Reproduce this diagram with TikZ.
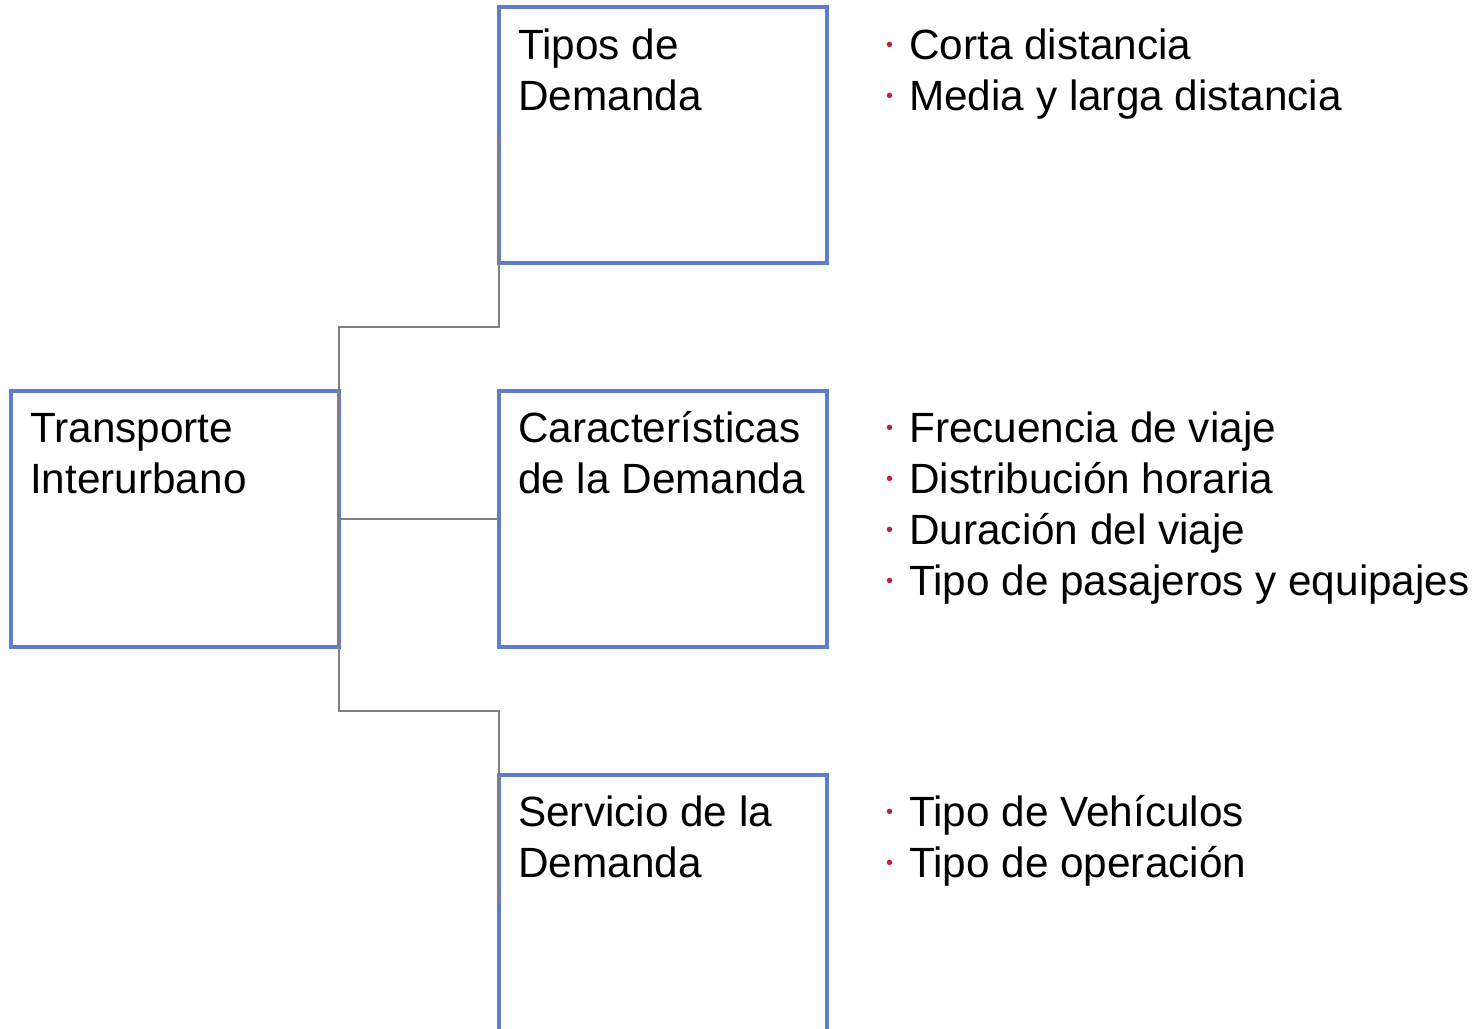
\documentclass[tikz,border=0pt]{standalone}
\usepackage{fontspec}
\setmainfont{Liberation Sans}
\usetikzlibrary{positioning,calc}
\definecolor{boxblue}{RGB}{96,126,200}
\definecolor{linegray}{RGB}{128,128,128}
\definecolor{dotred}{RGB}{192,32,58}
% small red dot in front of each item
\newcommand{\itm}{\llap{\textcolor{dotred}{\raisebox{8pt}{\fontsize{20}{20}\selectfont\char"2022}}\hspace{16pt}}}
\tikzset{
  box/.style={draw=boxblue, line width=4.2pt, minimum width=328pt, minimum height=256pt, inner sep=0pt, outer sep=0pt},
  boxtext/.style={anchor=base west, align=left, inner sep=0pt, font=\fontsize{42.3}{51}\selectfont},
  conn/.style={draw=linegray, line width=2.8pt},
}
\begin{document}
\begin{tikzpicture}[x=1pt,y=-1pt]
\useasboundingbox (0,0) rectangle (1479,1028);
% boxes
\node[box] (root) at (175,519) {};
\node[box] (tipos) at (663,135) {};
\node[box] (carac) at (663,519) {};
\node[box] (serv) at (663,903) {};
% box texts (anchored at the last baseline)
\node[boxtext] (roottxt) at ([shift={(19,102)}]root.north west) {Transporte\\Interurbano};
\node[boxtext] (tipostxt) at ([shift={(19,103)}]tipos.north west) {Tipos de\\Demanda};
\node[boxtext] (caractxt) at ([shift={(19,102)}]carac.north west) {Características\\de la Demanda};
\node[boxtext] (servtxt) at ([shift={(19,102)}]serv.north west) {Servicio de la\\Demanda};
% item lists
\node[boxtext] (tiposlist) at ([shift={(82,103)}]tipos.north east) {\itm Corta distancia\\\itm Media y larga distancia};
\node[boxtext] (caraclist) at ([shift={(82,204)}]carac.north east) {\itm Frecuencia de viaje\\\itm Distribución horaria\\\itm Duración del viaje\\\itm Tipo de pasajeros y equipajes};
\node[boxtext] (servlist) at ([shift={(82,102)}]serv.north east) {\itm Tipo de Vehículos\\\itm Tipo de operación};
% connectors
\coordinate (jtop) at ($(root.north east)!0.5!(tipos.south west)$);
\coordinate (jbot) at ($(root.south east)!0.5!(serv.north west)$);
\draw[conn] (root.east) |- (jtop) -| (tipos.west);
\draw[conn] (root.east) -- (carac.west);
\draw[conn] (root.east) |- (jbot) -| (serv.west);
\end{tikzpicture}
\end{document}
